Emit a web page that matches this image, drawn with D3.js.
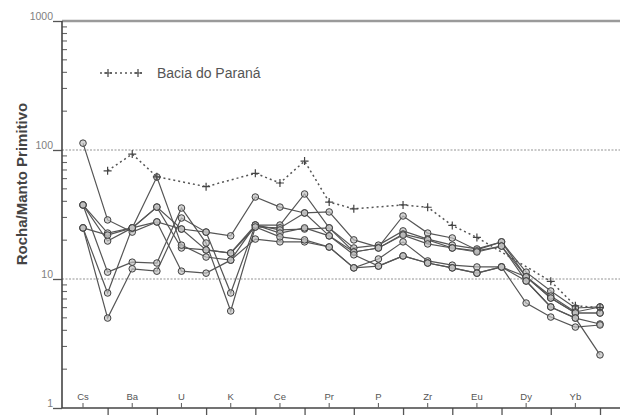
<!DOCTYPE html>
<html>
<head>
<meta charset="utf-8">
<script src="https://cdn.jsdelivr.net/npm/d3@7"></script>
<style>
  html, body { margin: 0; padding: 0; background: #fff; }
  svg { display: block; }
  svg text { font-family: "Liberation Sans", Arial, sans-serif; }
</style>
</head>
<body>
<svg id="chart" width="622" height="416"></svg>
<script>
// Elements of the primitive-mantle normalised multi-element diagram
const elements = ["Cs","Rb","Ba","Th","U","Nb","K","La","Ce","Pb","Pr","Sr","P","Nd","Zr","Sm","Eu","Ti","Dy","Y","Yb","Lu"];
const labeledElements = ["Cs","Ba","U","K","Ce","Pr","P","Zr","Eu","Dy","Yb"];
const yTickValues = [1, 10, 100, 1000];
const yTickLabels = ["1", "10", "100", "1000"];
const legendLabel = "Bacia do Paraná";
const yTitle = "Rocha/Manto Primitivo";

// Sample analyses (rock / primitive mantle)
const sample1 = [113, 28.7, 23.1, 27.7, 11.5, 11.1, 14.0, 20.4, 19.4, 19.4, 17.7, 12.2, 14.3, 19.4, 13.8, 12.8, 12.4, 12.4, 10.4, 7.12, 5.45, 5.45];
const sample2 = [37.5, 22.7, 24.9, 36.1, 24.4, 23.1, 21.6, 43.2, 36.1, 32.5, 33.1, 20.1, 17.7, 30.8, 22.7, 20.8, 16.8, 19.4, 11.3, 8.07, 5.96, 6.07];
const sample3 = [37.5, 19.7, 24.9, 36.1, 17.4, 16.8, 15.9, 26.2, 26.2, 45.6, 24.9, 17.4, 18.3, 23.6, 20.4, 18.3, 17.1, 19.4, 10.4, 7.38, 5.55, 6.07];
const sample4 = [37.5, 11.3, 13.5, 13.3, 35.5, 19.0, 5.65, 25.3, 24.9, 32.5, 21.6, 16.2, 17.4, 22.3, 20.1, 17.4, 16.5, 18.0, 10.4, 7.12, 5.45, 5.45];
const sample5 = [24.9, 4.98, 12.0, 11.5, 29.7, 23.1, 7.79, 26.2, 24.0, 24.4, 24.9, 16.2, 17.4, 21.9, 18.7, 17.4, 16.2, 18.0, 9.65, 6.07, 4.98, 4.48];
const sample6 = [24.9, 7.79, 24.9, 61.8, 18.3, 14.8, 14.0, 26.2, 22.7, 24.9, 21.6, 15.4, 12.6, 15.1, 13.3, 12.2, 11.1, 12.4, 9.65, 6.07, 4.98, 2.58];
const sample7 = [24.9, 21.9, 24.9, 27.7, 24.4, 16.8, 15.9, 25.3, 21.2, 20.1, 17.7, 12.2, 12.6, 15.1, 13.3, 12.2, 11.1, 12.4, 6.51, 5.07, 4.24, 4.40];
const samples = [sample1, sample2, sample3, sample4, sample5, sample6, sample7];

// Paraná Basin reference pattern (null = not analysed)
const baciaParana = [null, 69, 93, 62, null, 52, null, 66, 55.5, 82, 39.5, 35, null, 37.5, 36, 26, 21, null, null, 9.6, 6.2, 6.0];

const svg = d3.select("#chart");
const plotLeft = 62, plotRight = 620, plotTop = 21, plotBottom = 408;

const x = d3.scalePoint().domain(elements).range([83, 600]);
const y = d3.scaleLog().domain([1, 1000]).range([plotBottom, plotTop]);

// Horizontal reference lines
svg.append("g").selectAll("line")
  .data([10, 100])
  .join("line")
  .attr("x1", plotLeft).attr("x2", plotRight)
  .attr("y1", d => y(d)).attr("y2", d => y(d))
  .attr("stroke", "#b8b8b8").attr("stroke-width", 1.6)
  .attr("stroke-dasharray", "2,1.5");
svg.append("line")
  .attr("x1", plotLeft).attr("x2", plotRight)
  .attr("y1", y(1000)).attr("y2", y(1000))
  .attr("stroke", "#9a9a9a").attr("stroke-width", 2.4);

// Y axis with outward major ticks and inward minor ticks
const yAxisG = svg.append("g").attr("transform", `translate(${plotLeft},0)`);
yAxisG.call(d3.axisLeft(y).tickValues(yTickValues).tickSize(9).tickFormat((d, i) => yTickLabels[i]))
  .call(g => g.select(".domain").remove())
  .call(g => g.selectAll(".tick line").attr("stroke", "#555").attr("stroke-width", 1.3))
  .call(g => g.selectAll(".tick text")
    .attr("x", -9).attr("dy", "-0.15em")
    .attr("font-family", "'Liberation Sans', Arial, sans-serif")
    .attr("fill", "#808080").attr("font-size", 10.5));
const minorTicks = [];
for (let e = 0; e < 3; e++) for (let m = 2; m <= 9; m++) minorTicks.push(m * Math.pow(10, e));
yAxisG.append("g").selectAll("line")
  .data(minorTicks)
  .join("line")
  .attr("x1", 0).attr("x2", 5)
  .attr("y1", d => y(d)).attr("y2", d => y(d))
  .attr("stroke", "#666").attr("stroke-width", 1.1);
yAxisG.append("line")
  .attr("x1", 0).attr("x2", 0).attr("y1", plotTop).attr("y2", plotBottom)
  .attr("stroke", "#444").attr("stroke-width", 1.6);

// X axis: unlabelled element ticks point down, labelled ones sit inside
const xAxisG = svg.append("g").attr("transform", `translate(0,${plotBottom})`);
xAxisG.call(d3.axisBottom(x).tickValues(elements.filter(e => !labeledElements.includes(e))).tickSize(7).tickFormat(""))
  .call(g => g.select(".domain").remove())
  .call(g => g.selectAll(".tick line").attr("stroke", "#555").attr("stroke-width", 1.3));
xAxisG.append("line")
  .attr("x1", plotLeft).attr("x2", plotRight).attr("y1", 0).attr("y2", 0)
  .attr("stroke", "#444").attr("stroke-width", 1.6);
const lab = xAxisG.append("g").selectAll("g")
  .data(labeledElements)
  .join("g")
  .attr("transform", d => `translate(${x(d)},0)`);
lab.append("line").attr("y1", 0).attr("y2", -5).attr("stroke", "#666").attr("stroke-width", 1.1);
lab.append("text")
  .attr("y", -8).attr("text-anchor", "middle")
  .attr("font-family", "'Liberation Sans', Arial, sans-serif")
  .attr("font-size", 9.5).attr("fill", "#555")
  .text(d => d);

// Sample patterns
const line = d3.line()
  .defined(d => d.v != null)
  .x(d => x(d.e)).y(d => y(d.v));
const toPoints = arr => arr.map((v, i) => ({ e: elements[i], v }));

const sampleG = svg.append("g");
samples.forEach(s => {
  sampleG.append("path")
    .datum(toPoints(s))
    .attr("d", line)
    .attr("fill", "none").attr("stroke", "#555").attr("stroke-width", 1.2);
});
samples.forEach(s => {
  sampleG.append("g").selectAll("circle")
    .data(toPoints(s))
    .join("circle")
    .attr("cx", d => x(d.e)).attr("cy", d => y(d.v))
    .attr("r", 3.3)
    .attr("fill", "#c0c0c0").attr("fill-opacity", 0.7)
    .attr("stroke", "#404040").attr("stroke-width", 1);
});

// Paraná Basin pattern
const bpPts = toPoints(baciaParana).filter(d => d.v != null);
svg.append("path")
  .datum(bpPts)
  .attr("d", line)
  .attr("fill", "none").attr("stroke", "#555").attr("stroke-width", 1.5)
  .attr("stroke-dasharray", "2,3");
svg.append("g").selectAll("path")
  .data(bpPts)
  .join("path")
  .attr("transform", d => `translate(${x(d.e)},${y(d.v)})`)
  .attr("d", "M-4,0H4M0,-4V4")
  .attr("stroke", "#444").attr("stroke-width", 1.2);

// Legend
const lg = svg.append("g").attr("transform", "translate(100,73)");
lg.append("line").attr("x1", 0).attr("x2", 43).attr("y1", 0).attr("y2", 0)
  .attr("stroke", "#555").attr("stroke-width", 1.5).attr("stroke-dasharray", "2,3");
lg.selectAll("path.m").data([8, 38]).join("path")
  .attr("class", "m")
  .attr("transform", d => `translate(${d},0)`)
  .attr("d", "M-4,0H4M0,-4V4")
  .attr("stroke", "#444").attr("stroke-width", 1.2);
lg.append("text")
  .attr("x", 57).attr("y", 5)
  .attr("font-size", 14).attr("fill", "#555")
  .text(legendLabel);

// Y axis title
svg.append("text")
  .attr("transform", "translate(27,184) rotate(-90)")
  .attr("text-anchor", "middle")
  .attr("font-size", 15).attr("font-weight", "bold").attr("fill", "#444")
  .text(yTitle);
</script>
</body>
</html>
